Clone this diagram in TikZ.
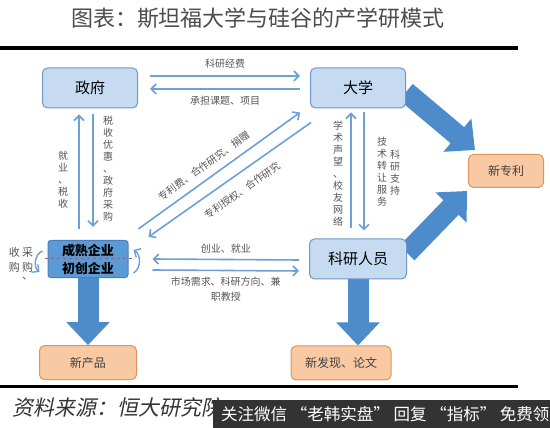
\documentclass[tikz,border=0pt]{standalone}
\usepackage{fontspec}
\setmainfont{Noto Sans CJK SC}
\newfontfamily\slantfont[FakeSlant=0.2]{Noto Sans CJK SC}
\usepackage{xcolor}
\usetikzlibrary{arrows.meta, positioning, backgrounds}
\definecolor{boxblue}{HTML}{C6DBF1}
\definecolor{boxline}{HTML}{7097C6}
\definecolor{firmblue}{HTML}{5B9BD5}
\definecolor{firmline}{HTML}{4A7EB8}
\definecolor{outfill}{HTML}{F8C9A2}
\definecolor{outedge}{HTML}{E0945A}
\definecolor{bigblue}{HTML}{4D8BCB}
\definecolor{lineblue}{HTML}{6CA0D6}
\definecolor{labgray}{HTML}{555555}
\definecolor{dashred}{HTML}{C0506E}

\begin{document}
\begin{tikzpicture}[
  x=1pt, y=1pt,
  box/.style={draw=boxline, fill=boxblue, line width=1pt, rounded corners=5pt, minimum width=95pt, minimum height=40pt, font=\fontsize{15}{18}\selectfont},
  firmbox/.style={draw=firmline, fill=firmblue, line width=1pt, rounded corners=3pt, minimum width=80pt, minimum height=36pt, align=center, font=\fontsize{13}{18}\selectfont\bfseries},
  outbox/.style={draw=outedge, fill=outfill, line width=1pt, rounded corners=5pt, minimum height=34pt, text=black!75, font=\fontsize{12}{14}\selectfont},
  arr/.style={draw=lineblue, line width=1.6pt, -{Straight Barb[length=5pt,width=10pt]}},
  arrback/.style={draw=lineblue, line width=1.6pt, {Straight Barb[length=5pt,width=10pt]}-},
  bigarr/.style={draw=bigblue, line width=21pt, -{Triangle[width=42pt,length=23pt]}},
  lab/.style={text=labgray, font=\fontsize{10}{12}\selectfont},
  vlab/.style={lab, align=center, inner sep=0pt}
]
  \useasboundingbox (0,0) rectangle (550,428);

  \node[text=black!70, font=\fontsize{22}{24}\selectfont] (title) at (258,410) {图表：斯坦福大学与硅谷的产学研模式};
  \draw[line width=3.5pt] (0,380) -- (518,380);
  \draw[line width=3pt] (0,41) -- (518,41);

  \node[box] (gov) at (90,340) {政府};
  \node[box, right=172pt of gov] (uni) {大学};
  \node[box, below=130pt of uni, minimum width=97pt] (res) {科研人员};
  \node[firmbox] (firm) at (88,169) {成熟企业\\初创企业};
  \node[outbox, below=67pt of firm, minimum width=97pt] (prod) {新产品};
  \node[outbox, below=66pt of res, xshift=-17pt, minimum width=100pt] (disc) {新发现、论文};
  \node[outbox, minimum width=75pt, minimum height=33pt] (patent) at (506,257) {新专利};

  \begin{scope}[on background layer]
    \draw[bigarr] (firm.south) -- (prod.north);
    \draw[bigarr] (res.south) -- (res.south |- disc.north);
    \draw[bigarr] ([yshift=-4pt]uni.east) -- ([xshift=7pt,yshift=4pt]patent.north west);
    \draw[bigarr] ([yshift=6pt]res.east) -- ([xshift=-1pt,yshift=-3pt]patent.south west);
  \end{scope}

  \draw[arr] ([xshift=12pt,yshift=12pt]gov.east) -- node[lab, above=4pt] {科研经费} ([xshift=-10pt,yshift=12pt]uni.west);
  \draw[arr] ([xshift=-10pt,yshift=-1pt]uni.west) -- node[lab, below=3pt] {承担课题、项目} ([xshift=12pt,yshift=-1pt]gov.east);

  \draw[arr] ([xshift=-9pt,yshift=11pt]firm.north) -- ([xshift=-11pt,yshift=-6pt]gov.south);
  \draw[arr] ([xshift=3pt,yshift=-6pt]gov.south) -- ([xshift=5pt,yshift=13pt]firm.north);
  \node[vlab] (jobtax) at (63,248) {就\\业\\、\\税\\收};
  \node[vlab] (taxpref) at (108,259) {税\\收\\优\\惠\\、\\政\\府\\采\\购};

  \draw[arr] ([xshift=-7pt,yshift=10pt]res.north) -- ([xshift=-7pt,yshift=-4pt]uni.south);
  \draw[arr] ([xshift=6pt,yshift=-4pt]uni.south) -- ([xshift=6pt,yshift=8pt]res.north);
  \node[vlab] (fame) at (338,254) {学\\术\\声\\望\\、\\校\\友\\网\\络};
  \node[vlab] (transfer) at (382,256) {技\\术\\转\\让\\服\\务};
  \node[vlab] (support) at (395,255) {科\\研\\支\\持};

  \draw[arr] ([xshift=10pt,yshift=11pt]firm.north east) -- node[lab, sloped, above=4pt, pos=0.45] {专利费、合作研究、捐赠} ([xshift=-10pt,yshift=-4pt]uni.south west);
  \draw[arrback] ([xshift=20pt,yshift=3pt]firm.north east) -- node[lab, sloped, below=7pt, pos=0.52] {专利授权、合作研究} ([xshift=1pt,yshift=-14pt]uni.south west);

  \draw[arr] ([xshift=-10pt,yshift=-1pt]res.west) -- node[lab, above=2pt] {创业、就业} ([xshift=24pt]firm.east);
  \draw[arr] ([xshift=24pt,yshift=-11pt]firm.east) -- node[lab, below=2pt, align=center, font=\fontsize{10}{15}\selectfont] {市场需求、科研方向、兼\\职教授} ([xshift=-10pt,yshift=-12pt]res.west);

  \draw[dashed, draw=dashred, line width=1pt] ([xshift=-3pt]firm.west) -- ([xshift=5pt]firm.east);
  \draw[arr, line width=1.4pt] ([xshift=-5pt,yshift=8pt]firm.west) to[bend right=60] ([xshift=-8pt,yshift=-13pt]firm.west);
  \draw[arr, line width=1.4pt] ([xshift=5pt,yshift=-14pt]firm.east) to[bend right=60] ([xshift=5pt,yshift=9pt]firm.east);
  \node[vlab, anchor=north, font=\fontsize{11}{15}\selectfont] (buy) at ([xshift=-20pt,yshift=12pt]firm.west) {采\\购\\[-7pt]、};
  \node[vlab, anchor=north, font=\fontsize{11}{15}\selectfont] (acq) at ([xshift=-33pt,yshift=12pt]firm.west) {收\\购};

  \node[anchor=west, inner sep=0pt, text=black!80, font=\slantfont\fontsize{21}{24}\selectfont] (source) at (12,21) {资料来源：恒大研究院};
  \fill[black!80] (213,0) rectangle (550,28);
  \node[anchor=west, inner sep=0pt, text=white, font=\fontsize{16.5}{18}\selectfont] (banner) at (221,14) {关注微信 “老韩实盘” 回复 “指标” 免费领};
\end{tikzpicture}
\end{document}
